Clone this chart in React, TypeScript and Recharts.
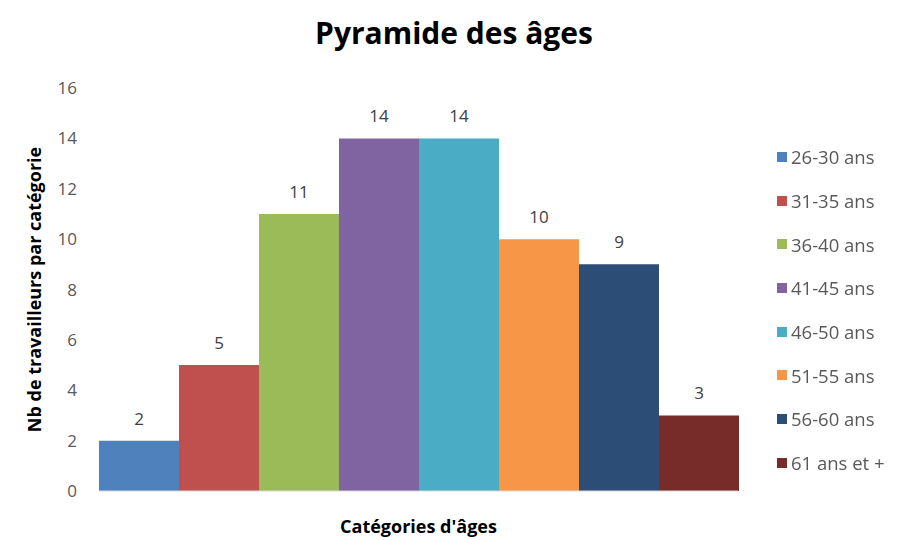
import { BarChart, Bar, XAxis, YAxis, Legend, LabelList } from "recharts";

const ageGroups = [
  "26-30 ans",
  "31-35 ans",
  "36-40 ans",
  "41-45 ans",
  "46-50 ans",
  "51-55 ans",
  "56-60 ans",
  "61 ans et +",
];
const workers = [2, 5, 11, 14, 14, 10, 9, 3];
const colors = [
  "#4F81BD",
  "#C0504D",
  "#9BBB59",
  "#8064A2",
  "#4BACC6",
  "#F79646",
  "#2C4D75",
  "#772C2A",
];
const yTicks = [0, 2, 4, 6, 8, 10, 12, 14, 16];

const row: Record<string, string | number> = { name: "" };
ageGroups.forEach((g, i) => {
  row[g] = workers[i];
});
const data = [row];

const font = "'Open Sans', sans-serif";

const LegendBox = ({ payload }: any) => (
  <div style={{ fontFamily: font }}>
    {(payload || []).map((p: any) => (
      <div
        key={p.value}
        style={{
          display: "flex",
          alignItems: "center",
          height: 43.7,
          fontSize: 18.5,
          color: "#595959",
          whiteSpace: "nowrap",
        }}
      >
        <span
          style={{
            width: 10,
            height: 10,
            background: p.color,
            marginRight: 4,
            display: "inline-block",
          }}
        />
        {p.value}
      </div>
    ))}
  </div>
);

const App = () => {
  return (
    <div style={{ position: "fixed", left: 0, top: 0, width: 905, height: 540, background: "#fff" }}>
      <div
        style={{
          position: "absolute",
          top: 12,
          left: 0,
          width: 908,
          textAlign: "center",
          fontFamily: font,
          fontWeight: 700,
          fontSize: 30,
          color: "#000",
        }}
      >
        Pyramide des âges
      </div>
      <BarChart
        width={905}
        height={540}
        data={data}
        margin={{ top: 88, right: 34, bottom: 7, left: 27 }}
        barCategoryGap={0}
        barGap={0}
      >
        <XAxis
          dataKey="name"
          tick={false}
          tickLine={false}
          axisLine={{ stroke: "#d9d9d9" }}
          height={42}
          label={{
            value: "Catégories d'âges",
            position: "insideBottom",
            offset: 0,
            style: { fontFamily: font, fontWeight: 700, fontSize: 18, fill: "#000" },
          }}
        />
        <YAxis
          domain={[0, 16]}
          ticks={yTicks}
          width={72}
          axisLine={false}
          tickLine={false}
          tickMargin={16}
          tick={{ fontFamily: font, fontSize: 17, fill: "#595959" }}
          label={{
            value: "Nb de travailleurs par catégorie",
            angle: -90,
            position: "insideLeft",
            offset: 8,
            style: { textAnchor: "middle", fontFamily: font, fontWeight: 700, fontSize: 18, fill: "#000" },
          }}
        />
        <Legend
          layout="vertical"
          align="right"
          verticalAlign="top"
          content={<LegendBox />}
          wrapperStyle={{ left: 777, top: 135, width: 133 }}
        />
        {ageGroups.map((g, i) => (
          <Bar key={g} dataKey={g} fill={colors[i]} isAnimationActive={false}>
            <LabelList
              dataKey={g}
              position="top"
              offset={16}
              style={{ fontFamily: font, fontSize: 17, fill: "#404040" }}
            />
          </Bar>
        ))}
      </BarChart>
    </div>
  );
};

export default App;
